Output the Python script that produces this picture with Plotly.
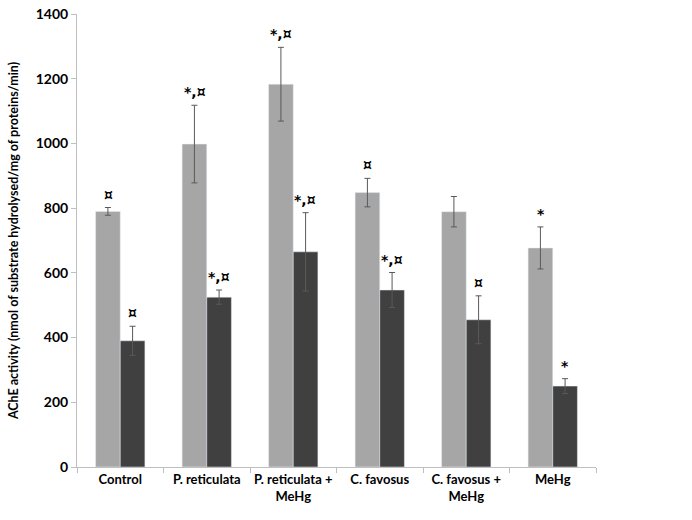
import plotly.graph_objects as go

categories = ["Control", "P. reticulata", "P. reticulata +<br>MeHg", "C. favosus", "C. favosus +<br>MeHg", "MeHg"]
light_values = [790, 998, 1183, 848, 789, 677]
light_errors = [12, 120, 114, 44, 47, 65]
dark_values = [390, 525, 665, 547, 455, 250]
dark_errors = [45, 22, 121, 54, 74, 23]
light_marks = ["¤", "*,¤", "*,¤", "¤", "", "*"]
dark_marks = ["¤", "*,¤", "*,¤", "*,¤", "¤", "*"]

FONT = "Lato"
MARKFONT = "DejaVu Sans"

fig = go.Figure()
fig.add_trace(go.Bar(
    x=categories, y=light_values, marker_color="#a6a6a6",
    error_y=dict(type="data", array=light_errors, color="#595959", thickness=1, width=3),
    name="light", offsetgroup="a"))
fig.add_trace(go.Bar(
    x=categories, y=dark_values, marker_color="#404040",
    error_y=dict(type="data", array=dark_errors, color="#595959", thickness=1, width=3),
    name="dark", offsetgroup="b"))

for i, c in enumerate(categories):
    if light_marks[i]:
        fig.add_annotation(x=c, y=light_values[i] + light_errors[i], text=light_marks[i],
                           showarrow=False, yanchor="bottom", yshift=3, xshift=-12,
                           font=dict(family=MARKFONT, size=14, color="#000", weight="bold"))
    if dark_marks[i]:
        fig.add_annotation(x=c, y=dark_values[i] + dark_errors[i], text=dark_marks[i],
                           showarrow=False, yanchor="bottom", yshift=3, xshift=12,
                           font=dict(family=MARKFONT, size=14, color="#000", weight="bold"))

fig.update_layout(
    width=692, height=520,
    margin=dict(l=77, r=96, t=14, b=53),
    plot_bgcolor="white", paper_bgcolor="white",
    showlegend=False,
    barmode="group", bargap=0.43, bargroupgap=0,
    font=dict(family=FONT, size=13, color="#000"),
    xaxis=dict(showline=True, linecolor="#bfbfbf", linewidth=1, ticks="outside",
               tickson="boundaries", ticklen=5, tickcolor="#bfbfbf", tickangle=0,
               automargin=False,
               tickfont=dict(family=FONT, size=13, color="#000", weight="bold")),
    yaxis=dict(range=[0, 1400], dtick=200, showline=True, linecolor="#bfbfbf", linewidth=1,
               ticks="outside", ticklen=5, tickcolor="#bfbfbf", showgrid=False, zeroline=False,
               automargin=False, ticklabeloverflow="allow",
               tickfont=dict(family=FONT, size=14, color="#000", weight="bold"),
               title=dict(text="AChE activity (nmol of substrate hydrolysed/mg of proteins/min)",
                          font=dict(family=FONT, size=12.5, color="#000", weight="bold"),
                          standoff=14)),
)

fig.write_html("out.html", config={"displayModeBar": False},
               post_script="document.body.style.margin='0';document.body.style.overflow='hidden';")
